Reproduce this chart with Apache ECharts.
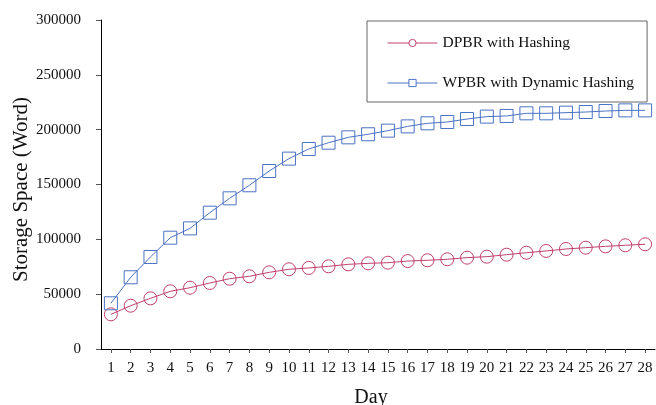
<!DOCTYPE html>
<html>
<head>
<meta charset="utf-8">
<script src="https://cdn.jsdelivr.net/npm/echarts@6/dist/echarts.min.js"></script>
<style>
  html, body { margin: 0; padding: 0; background: #fff; }
  #chart { width: 656px; height: 405px; }
</style>
</head>
<body>
<div id="chart"></div>
<script>
// Days 1..28
const days = ['1','2','3','4','5','6','7','8','9','10','11','12','13','14','15','16','17','18','19','20','21','22','23','24','25','26','27','28'];

// Storage used (words) per day
const dpbrHashing = [31600, 39500, 46200, 52600, 55900, 60200, 64100, 66300, 69900, 72700, 73900, 75400, 77200, 78100,
  78700, 80200, 80900, 81800, 83300, 84200, 86000, 87800, 89400, 91200, 92400, 93600, 94600, 95500];
const wpbrDynamicHashing = [41700, 65400, 83900, 101500, 110000, 124300, 137400, 149300, 162300, 173600, 182400, 188100,
  193000, 195800, 199100, 203000, 205800, 207000, 209700, 211900, 212500, 214900, 214900, 215500, 216100, 217000, 217600, 217600];

const seriesNames = ['DPBR with Hashing', 'WPBR with Dynamic Hashing'];
const yTicks = { min: 0, max: 300000, interval: 50000 };

const RED = '#c0406a';
const BLUE = '#4a72c4';
const FONT = "'Liberation Serif', 'Times New Roman', serif";

const chart = echarts.init(document.getElementById('chart'), null, { renderer: 'canvas' });

function lineSeries(name, data, color, symbol) {
  return {
    name: name,
    type: 'line',
    data: data,
    symbol: symbol,
    symbolSize: 13,
    showAllSymbol: true,
    lineStyle: { color: color, width: 1 },
    itemStyle: { color: 'rgba(255,255,255,0)', borderColor: color, borderWidth: 1 },
    emphasis: { disabled: true },
    animation: false
  };
}

chart.setOption({
  backgroundColor: '#ffffff',
  animation: false,
  grid: { left: 101, right: 1, top: 20, bottom: 56, containLabel: false, outerBoundsMode: 'none' },
  legend: {
    orient: 'vertical',
    left: 367,
    top: 21,
    padding: [14, 13, 11, 20],
    itemGap: 24,
    itemWidth: 50,
    itemHeight: 9,
    borderColor: '#666666',
    borderWidth: 1,
    data: [
      { name: seriesNames[0], itemStyle: { color: '#ffffff', borderColor: RED, borderWidth: 1 }, lineStyle: { width: 1 } },
      { name: seriesNames[1], itemStyle: { color: '#ffffff', borderColor: BLUE, borderWidth: 1 }, lineStyle: { width: 1 } }
    ],
    textStyle: { fontFamily: FONT, fontSize: 15.5, color: '#111' }
  },
  xAxis: {
    type: 'category',
    data: days,
    boundaryGap: true,
    name: 'Day',
    nameLocation: 'middle',
    nameGap: 39,
    nameMoveOverlap: false,
    nameTextStyle: { fontFamily: FONT, fontSize: 20, color: '#111', padding: [0, 14, 0, 0] },
    axisLine: { lineStyle: { color: '#000', width: 1 } },
    axisTick: { show: true, alignWithLabel: true, length: 4, lineStyle: { color: '#555' } },
    axisLabel: { fontFamily: FONT, fontSize: 15, color: '#111', margin: 12, interval: 0 },
    splitLine: { show: false }
  },
  yAxis: {
    type: 'value',
    min: yTicks.min,
    max: yTicks.max,
    interval: yTicks.interval,
    name: 'Storage Space (Word)',
    nameLocation: 'middle',
    nameGap: 69,
    nameMoveOverlap: false,
    nameTextStyle: { fontFamily: FONT, fontSize: 21, color: '#111', padding: [0, 10, 0, 0] },
    axisLine: { show: true, lineStyle: { color: '#000', width: 1 } },
    axisTick: { show: true, length: 5, lineStyle: { color: '#555' } },
    axisLabel: { fontFamily: FONT, fontSize: 15, color: '#111', margin: 20, formatter: (v) => String(v) },
    splitLine: { show: false }
  },
  series: [
    lineSeries(seriesNames[0], dpbrHashing, RED, 'circle'),
    lineSeries(seriesNames[1], wpbrDynamicHashing, BLUE, 'rect')
  ]
});
</script>
</body>
</html>
